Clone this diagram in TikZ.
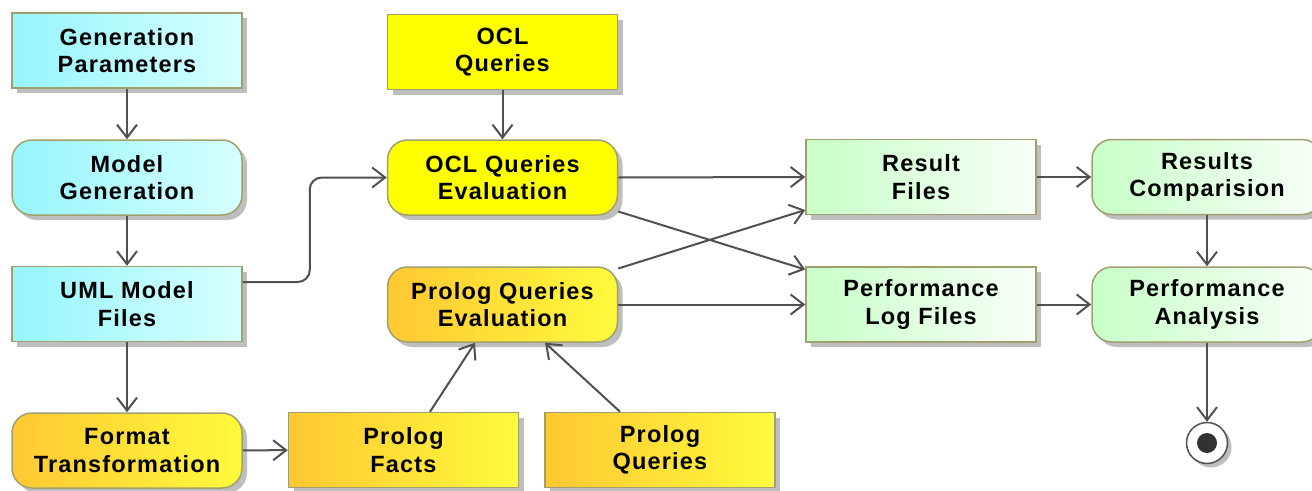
\documentclass[tikz,border=0pt]{standalone}
\usepackage{fontspec}
\setmainfont{Liberation Sans}[LetterSpace=5]
\usetikzlibrary{arrows.meta,shadows,calc}

\definecolor{boxline}{RGB}{160,160,110}
\definecolor{shadowgray}{RGB}{190,190,190}
\definecolor{linegray}{RGB}{80,80,80}
\definecolor{cyanL}{RGB}{150,245,252}
\definecolor{cyanR}{RGB}{215,255,255}
\definecolor{oclYellow}{RGB}{255,255,0}
\definecolor{orangeL}{RGB}{255,200,50}
\definecolor{orangeR}{RGB}{255,250,60}
\definecolor{greenL}{RGB}{200,255,200}
\definecolor{greenR}{RGB}{248,255,248}
\definecolor{finalDot}{RGB}{50,50,50}

\tikzset{
  box/.style={draw=boxline, line width=1.5pt, minimum width=230pt, minimum height=75pt,
    inner sep=0pt, align=center, text=black,
    font=\fontsize{23.5}{27.5}\selectfont\bfseries,
    drop shadow={shadow xshift=5pt, shadow yshift=-5pt, fill=shadowgray, opacity=1}},
  act/.style={box, rounded corners=20pt},
  cyanfill/.style={left color=cyanL, right color=cyanR},
  yellowfill/.style={fill=oclYellow},
  orangefill/.style={left color=orangeL, right color=orangeR},
  greenfill/.style={left color=greenL, right color=greenR},
  flow/.style={draw=linegray, line width=2pt, -{Straight Barb[length=13pt,width=20pt]}},
}

\begin{document}
\begin{tikzpicture}[x=1pt, y=-1pt]
\useasboundingbox (0,0) rectangle (1312,490);

% left column: model generation chain
\node[box, cyanfill] (gp) at (127,50.5) {Generation\\Parameters};
\node[act, cyanfill] (mg) at (127,177.5) {Model\\Generation};
\node[box, cyanfill] (uml) at (127,304) {UML Model\\Files};
\node[act, orangefill] (ft) at (127,450.5) {Format\\Transformation};

% middle column: query evaluation
\node[box, yellowfill] (oq) at (502.5,52) {OCL\\Queries};
\node[act, yellowfill] (oe) at (502.5,177.5) {OCL Queries\\Evaluation};
\node[act, orangefill] (pe) at (502.5,304.5) {Prolog Queries\\Evaluation};
\node[box, orangefill] (pf) at (403.5,450) {Prolog\\Facts};
\node[box, orangefill] (pq) at (660,450) {Prolog\\Queries};

% outputs
\node[box, greenfill] (rf) at (921,177) {Result\\Files};
\node[box, greenfill] (pl) at (921,304.5) {Performance\\Log Files};
\node[act, greenfill] (rc) at (1207,177) {Results\\Comparision};
\node[act, greenfill] (pa) at (1207,304.5) {Performance\\Analysis};

% final node
\node[circle, draw=linegray, line width=1.5pt, fill=white, minimum size=41pt, inner sep=0pt,
  drop shadow={shadow xshift=4pt, shadow yshift=-4pt, fill=shadowgray, opacity=1}] (end) at (1207,443) {};
\node[circle, fill=finalDot, minimum size=20pt, inner sep=0pt] (endDot) at (end.center) {};

% connectors
\draw[flow] (gp) -- (mg);
\draw[flow] (mg) -- (uml);
\draw[flow] (uml) -- (ft);
\draw[flow] (ft) -- (pf);
\draw[flow, rounded corners=12pt] ([yshift=22pt]uml.east) -| ($(oe.west)+(-77,0)$) -- (oe.west);
\draw[flow] (oq) -- (oe);
\draw[flow] (oe.east) -- (rf.west);
\draw[flow] ([yshift=-34pt]oe.east) -- ([yshift=35pt]pl.west);
\draw[flow] ([yshift=36pt]pe.east) -- ([yshift=-33pt]rf.west);
\draw[flow] (pe.east) -- (pl.west);
\draw[flow] ([xshift=26.5pt]pf.north) -- ([xshift=-27.5pt]pe.south);
\draw[flow] ([xshift=-40pt]pq.north) -- ([xshift=42.5pt]pe.south);
\draw[flow] (rf) -- (rc);
\draw[flow] (pl) -- (pa);
\draw[flow] (rc) -- (pa);
\draw[flow] (pa) -- (end);
\end{tikzpicture}
\end{document}
